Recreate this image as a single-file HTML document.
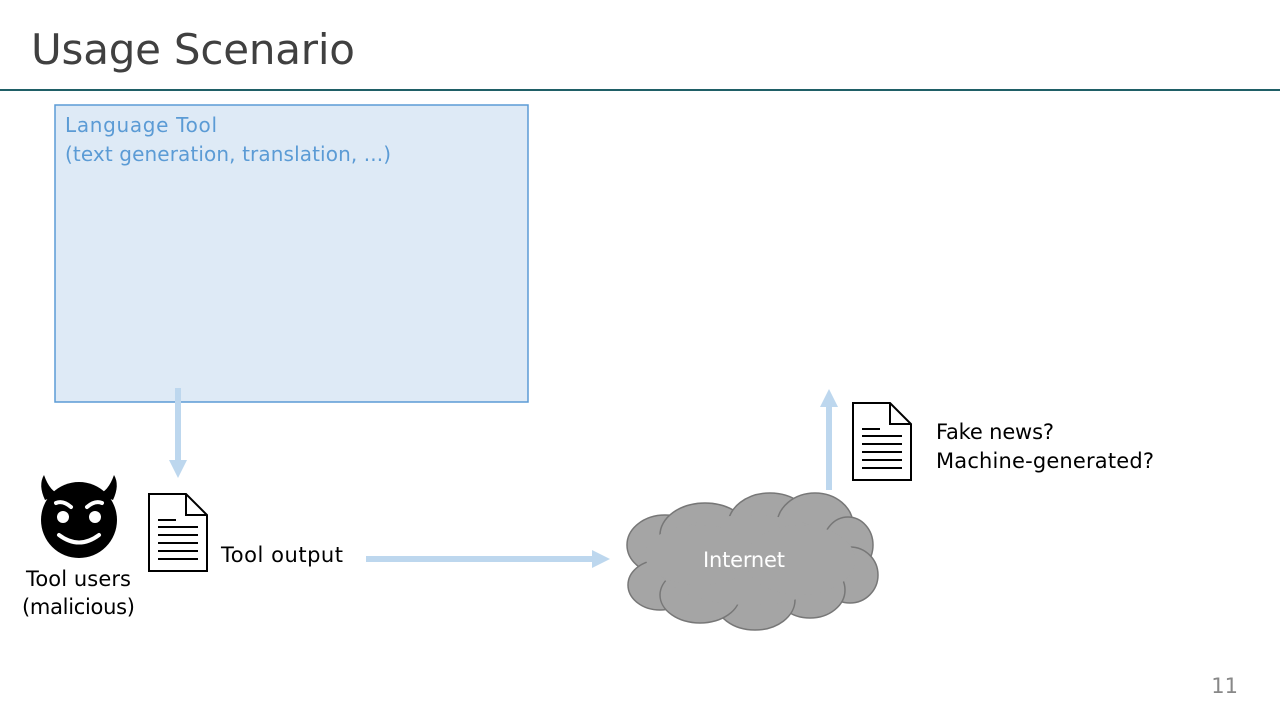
<!DOCTYPE html>
<html><head><style>
body{margin:0;width:1280px;height:720px;background:#fff;overflow:hidden;font-family:"DejaVu Sans","Liberation Sans",sans-serif}
</style></head><body>
<svg width="1280" height="720" xmlns="http://www.w3.org/2000/svg" style="position:absolute;left:0;top:0">
<text x="31" y="64" font-size="42" fill="#404040" font-family="'DejaVu Sans','Liberation Sans',sans-serif" textLength="324">Usage Scenario</text>
<rect x="0" y="89" width="1280" height="2" fill="#1f5f66"/>
<rect x="55" y="105" width="473" height="297" fill="#deeaf6" stroke="#5b9bd5" stroke-width="1.5"/>
<g font-size="20" fill="#5b9bd5" font-family="'DejaVu Sans','Liberation Sans',sans-serif">
<text x="65" y="132" textLength="152">Language Tool</text>
<text x="65" y="161" textLength="326">(text generation, translation, ...)</text>
</g>
<g fill="#bdd7ee">
<rect x="175" y="388" width="6" height="75"/><polygon points="169,460 187,460 178,478"/>
<rect x="366" y="556" width="230" height="6"/><polygon points="592,550 610,559 592,568"/>
<rect x="826" y="405" width="6" height="85"/><polygon points="820,407 838,407 829,389"/>
</g>
<g fill="#000">
<path d="M45,500 Q38,485 44,475 Q50,492 60,494 Z"/>
<path d="M113,500 Q120,485 114,475 Q108,492 98,494 Z"/>
<circle cx="79" cy="520" r="38"/>
</g>
<g fill="#fff">
<circle cx="63" cy="517" r="6"/><circle cx="95" cy="517" r="6"/>
</g>
<g stroke="#fff" stroke-width="4" fill="none" stroke-linecap="round">
<path d="M56,503 Q63,500 71,507"/><path d="M102,503 Q95,500 87,507"/>
<path d="M59,535 Q79,550 99,535"/>
</g>
<g fill="#fff" stroke="#000" stroke-width="2">
<path d="M149,494 H186 L207,515 V571 H149 Z"/><path d="M186,494 V515 H207" fill="none"/>
</g>
<g stroke="#000" stroke-width="2">
<line x1="158" y1="520" x2="176" y2="520"/>
<line x1="158" y1="527" x2="198" y2="527"/><line x1="158" y1="535" x2="198" y2="535"/>
<line x1="158" y1="543" x2="198" y2="543"/><line x1="158" y1="551" x2="198" y2="551"/>
<line x1="158" y1="559" x2="198" y2="559"/>
</g>
<g fill="#fff" stroke="#000" stroke-width="2">
<path d="M853,403 H890 L911,424 V480 H853 Z"/><path d="M890,403 V424 H911" fill="none"/>
</g>
<g stroke="#000" stroke-width="2">
<line x1="862" y1="429" x2="880" y2="429"/>
<line x1="862" y1="436" x2="902" y2="436"/><line x1="862" y1="444" x2="902" y2="444"/>
<line x1="862" y1="452" x2="902" y2="452"/><line x1="862" y1="460" x2="902" y2="460"/>
<line x1="862" y1="468" x2="902" y2="468"/>
</g>
<g id="cl">
<ellipse cx="665" cy="545" rx="38" ry="30"/>
<ellipse cx="660" cy="585" rx="32" ry="25"/>
<ellipse cx="705" cy="535" rx="45" ry="32"/>
<ellipse cx="770" cy="525" rx="42" ry="32"/>
<ellipse cx="815" cy="525" rx="38" ry="32"/>
<ellipse cx="848" cy="545" rx="25" ry="28"/>
<ellipse cx="850" cy="575" rx="28" ry="28"/>
<ellipse cx="810" cy="590" rx="35" ry="28"/>
<ellipse cx="755" cy="600" rx="40" ry="30"/>
<ellipse cx="700" cy="595" rx="40" ry="28"/>
<ellipse cx="750" cy="560" rx="90" ry="40"/>
</g>
<use href="#cl" fill="#a5a5a5" stroke="#777" stroke-width="1.5"/>
<ellipse cx="750" cy="560" rx="95" ry="45" fill="#a5a5a5"/>
<ellipse cx="700" cy="555" rx="55" ry="30" fill="#a5a5a5"/>
<ellipse cx="800" cy="560" rx="55" ry="35" fill="#a5a5a5"/>
<text x="703" y="567" font-size="21" fill="#fff" textLength="82">Internet</text>
<g font-size="21" fill="#000">
<text x="221" y="562" textLength="122">Tool output</text>
<text x="26" y="586" textLength="105">Tool users</text>
<text x="22" y="614" textLength="113">(malicious)</text>
<text x="936" y="439" textLength="118">Fake news?</text>
<text x="936" y="468" textLength="218">Machine-generated?</text>
</g>
<text x="1238" y="693" font-size="21" fill="#888" text-anchor="end">11</text>
</svg>
</body></html>
